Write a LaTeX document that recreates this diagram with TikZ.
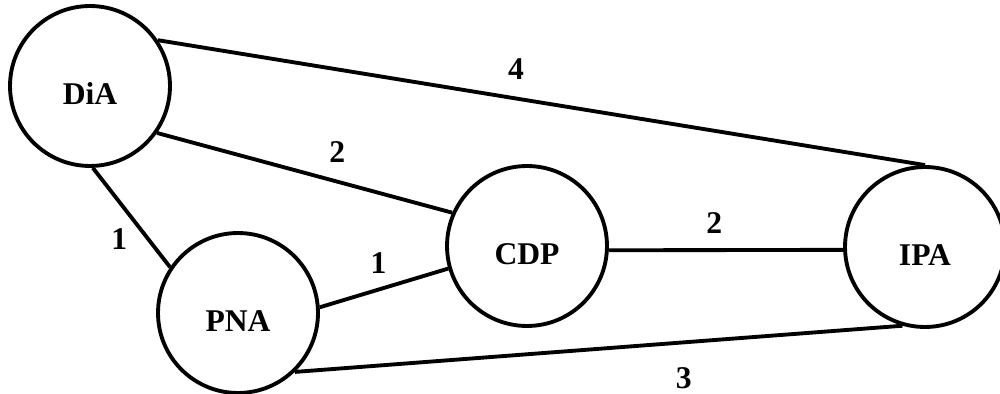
\documentclass[tikz,border=0pt]{standalone}
\usepackage{fontspec}
\setmainfont{Liberation Serif}
\usepackage{tikz}
\tikzset{state/.style={draw, circle, line width=2.2pt, minimum size=3.2cm, inner sep=0pt, font=\fontsize{18}{20}\selectfont\bfseries, text height=21pt, text depth=0pt}}
\tikzset{link/.style={line width=2.2pt}}
\tikzset{weight/.style={inner sep=0pt, font=\fontsize{18}{20}\selectfont\bfseries}}

\begin{document}
\begin{tikzpicture}[x=0.02cm, y=-0.02cm]
    \useasboundingbox (0, 0) rectangle (1000, 394);
    \foreach \name/\x/\y in {DiA/90/86, PNA/238/313, CDP/527/246, IPA/925/247} {
        \node[state] (\name) at (\x, \y) {\name};
    }
    \draw[link] (DiA.34) -- (IPA.north) node [weight, pos=0.467, above=10pt] (w4) {4};
    \draw[link] (DiA.-35) -- (CDP.156) node [weight, pos=0.611, above=10pt] (w2a) {2};
    \draw[link] (DiA.-88) -- (PNA.146) node [weight, pos=0.72, left=11pt] (w1a) {1};
    \draw[link] (PNA.4) -- (CDP.-164) node [weight, pos=0.457, above=8pt] (w1b) {1};
    \draw[link] (CDP.-3) -- (IPA.-178) node [weight, pos=0.45, above=8.5pt] (w2b) {2};
    \draw[link] (PNA.-46) -- (IPA.-106) node [weight, pos=0.64, below=13pt] (w3) {3};
\end{tikzpicture}
\end{document}
